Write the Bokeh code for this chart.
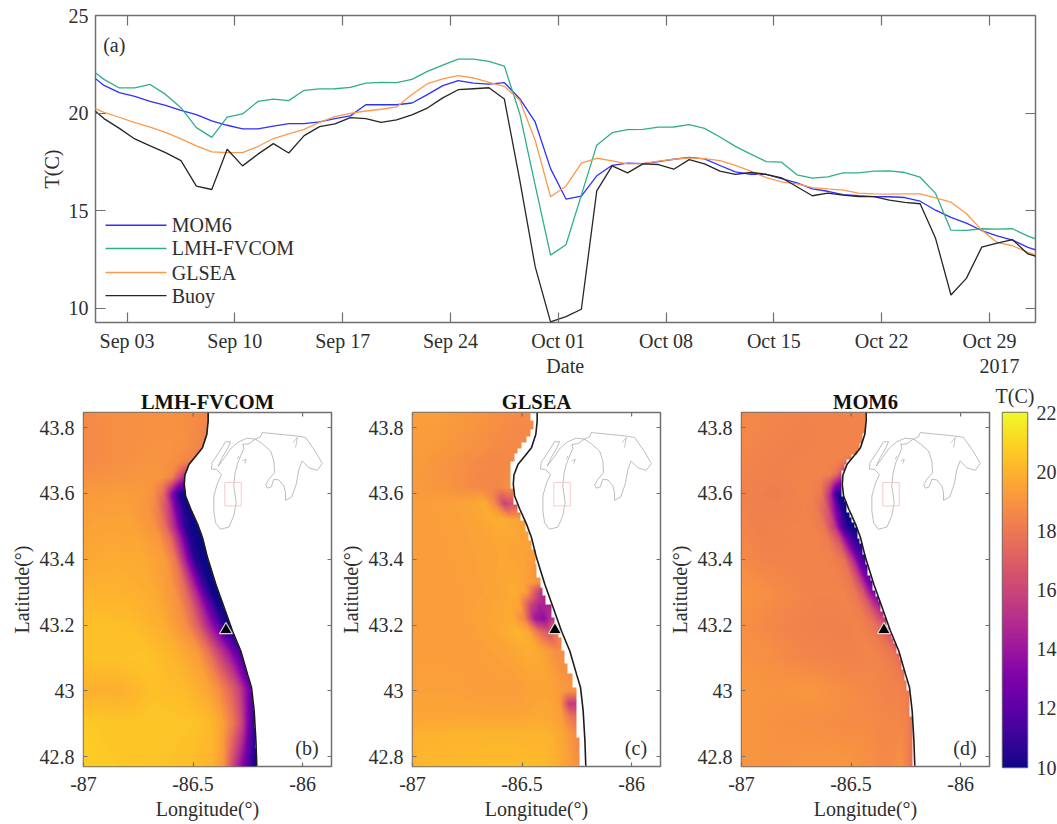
import numpy as np
from bokeh.embed import file_html
from bokeh.layouts import column, row
from bokeh.models import FixedTicker, Label, LinearAxis, LinearColorMapper, Range1d
from bokeh.palettes import Plasma256
from bokeh.plotting import figure
from bokeh.resources import INLINE

# ---------- panel (a): daily means, noon of each day; day 0 = Sep 1 ----------
days = [d - 0.5 for d in range(63)]
mom6 = [22.05, 21.42, 21.05, 20.86, 20.60, 20.40, 20.14, 19.92, 19.60, 19.38, 19.19, 19.19, 19.33, 19.46, 19.46, 19.55,
        19.72, 19.86, 20.43, 20.43, 20.43, 20.52, 20.95, 21.41, 21.66, 21.54, 21.49, 21.56, 20.74, 19.55, 17.16, 15.60,
        15.75, 16.79, 17.33, 17.44, 17.42, 17.52, 17.64, 17.74, 17.66, 17.32, 16.99, 16.87, 16.87, 16.65, 16.43, 16.12,
        16.00, 15.83, 15.77, 15.73, 15.72, 15.68, 15.49, 15.03, 14.66, 14.37, 13.99, 13.72, 13.50, 13.13, 12.87]
fvcom = [22.33, 21.73, 21.29, 21.29, 21.47, 20.96, 20.28, 19.26, 18.76, 19.80, 19.96, 20.60, 20.72, 20.64, 21.17, 21.24,
         21.25, 21.32, 21.54, 21.58, 21.56, 21.73, 22.14, 22.46, 22.77, 22.77, 22.65, 22.41, 19.97, 16.31, 12.73, 13.26,
         15.80, 18.36, 19.00, 19.16, 19.17, 19.28, 19.29, 19.41, 19.22, 18.78, 18.30, 17.90, 17.52, 17.49, 16.84, 16.67,
         16.74, 16.94, 16.94, 17.03, 17.04, 16.96, 16.72, 15.89, 14.01, 14.00, 14.08, 14.06, 14.08, 13.70, 13.42]
glsea = [20.38, 20.04, 19.79, 19.51, 19.29, 19.02, 18.68, 18.32, 18.02, 17.98, 17.98, 18.29, 18.70, 18.94, 19.17, 19.53,
         19.82, 19.99, 20.11, 20.20, 20.32, 20.95, 21.51, 21.75, 21.92, 21.80, 21.58, 21.37, 20.66, 18.61, 15.72, 16.26,
         17.44, 17.69, 17.56, 17.40, 17.42, 17.54, 17.64, 17.71, 17.67, 17.57, 17.33, 17.03, 16.70, 16.48, 16.38, 16.19,
         16.12, 16.06, 15.90, 15.87, 15.85, 15.87, 15.87, 15.66, 15.44, 14.86, 14.01, 13.38, 13.21, 12.87, 12.63]
buoy = [20.40, 19.72, 19.22, 18.68, 18.32, 17.98, 17.57, 16.26, 16.09, 18.15, 17.30, 17.90, 18.44, 17.96, 18.85, 19.31,
        19.45, 19.77, 19.72, 19.53, 19.65, 19.91, 20.26, 20.78, 21.20, 21.25, 21.30, 20.72, 16.57, 12.14, 9.31, 9.58,
        9.96, 16.02, 17.30, 16.94, 17.40, 17.37, 17.13, 17.62, 17.40, 17.03, 16.86, 16.96, 16.87, 16.69, 16.23, 15.77,
        15.90, 15.80, 15.73, 15.73, 15.55, 15.43, 15.36, 13.59, 10.69, 11.54, 13.14, 13.35, 13.52, 12.79, 12.56]
date_ticks = [2, 9, 16, 23, 30, 37, 44, 51, 58]
date_labels = ["Sep 03", "Sep 10", "Sep 17", "Sep 24", "Oct 01", "Oct 08", "Oct 15", "Oct 22", "Oct 29"]
second_row = {30.45: "Date", 58.65: "2017"}
temp_ticks = [10, 15, 20, 25]
legend_names = ["MOM6", "LMH-FVCOM", "GLSEA", "Buoy"]
legend_colors = ["#2f2fff", "#2fae8a", "#fb9a4e", "#262626"]
legend_y = [14.26, 13.07, 11.84, 10.66]

# ---------- map panels ----------
coast_lon = [-86.431, -86.431, -86.437, -86.457, -86.487, -86.518, -86.537, -86.540, -86.534, -86.510, -86.479,
             -86.457, -86.434, -86.396, -86.358, -86.320, -86.282, -86.251, -86.233, -86.221, -86.213, -86.209]
coast_lat = [43.846, 43.820, 43.780, 43.739, 43.714, 43.689, 43.656, 43.628, 43.592, 43.552, 43.506,
             43.466, 43.405, 43.324, 43.253, 43.182, 43.121, 43.050, 43.010, 42.939, 42.848, 42.772]
buoy_lon, buoy_lat = -86.35, 43.185

michigan_lon = [-86.375, -86.397, -86.405, -86.405, -86.390, -86.370, -86.394, -86.416, -86.413, -86.382, -86.352,
                -86.329, -86.340, -86.367, -86.385, -86.367, -86.324, -86.291, -86.253, -86.215, -86.245, -86.273,
                -86.268, -86.283, -86.298, -86.309, -86.314, -86.303, -86.314, -86.336, -86.375]
michigan_lat = [43.491, 43.511, 43.547, 43.592, 43.628, 43.658, 43.673, 43.674, 43.694, 43.724, 43.757,
                43.757, 43.739, 43.709, 43.683, 43.699, 43.739, 43.757, 43.768, 43.765, 43.751, 43.749,
                43.737, 43.714, 43.689, 43.658, 43.623, 43.572, 43.532, 43.498, 43.491]
huron_lon = [-86.215, -86.184, -86.146, -86.131, -86.128, -86.154, -86.168, -86.161, -86.143, -86.131, -86.108, -86.085,
             -86.078, -86.078, -86.050, -86.029, -86.017, -86.002, -85.971, -85.933, -85.910, -85.941, -85.986, -86.032,
             -86.078, -86.184, -86.192, -86.215]
huron_lat = [43.765, 43.751, 43.729, 43.699, 43.663, 43.643, 43.626, 43.616, 43.620, 43.643, 43.641, 43.623,
             43.602, 43.579, 43.589, 43.628, 43.673, 43.699, 43.678, 43.670, 43.691, 43.727, 43.770, 43.775,
             43.778, 43.785, 43.772, 43.765]
island_lon = [[-86.273, -86.257, -86.263], [-86.032, -86.024, -86.044], [-86.298, -86.291]]
island_lat = [[43.699, 43.704, 43.691], [43.739, 43.770, 43.754], [43.704, 43.714]]
box_lon = [-86.355, -86.280, -86.280, -86.355, -86.355]
box_lat = [43.633, 43.633, 43.562, 43.562, 43.633]

# temperature by latitude (rows) and distance west of the shore in degrees (columns)
shore_dist = [0, 0.03, 0.06, 0.1, 0.15, 0.2, 0.3, 0.45, 0.6, 0.8]
fvcom_lat = [43.85, 43.7, 43.65, 43.6, 43.5, 43.4, 43.3, 43.2, 43.1, 43.0, 42.9, 42.77]
fvcom_map = [[18.5, 18.6, 18.7, 18.8, 18.9, 18.9, 18.9, 18.8, 18.6, 18.6],
             [18.3, 18.5, 18.7, 18.9, 19.0, 19.0, 18.9, 18.7, 18.6, 18.6],
             [14.5, 16.5, 18.5, 19.0, 19.1, 19.1, 19.0, 18.9, 18.7, 18.6],
             [10.0, 10.5, 13.5, 17.5, 19.0, 19.2, 19.3, 19.2, 19.0, 18.7],
             [10.0, 10.0, 10.5, 14.0, 17.5, 19.0, 19.5, 19.5, 19.3, 19.2],
             [10.0, 10.0, 10.5, 14.0, 18.0, 19.3, 19.7, 19.8, 19.6, 19.5],
             [10.0, 10.0, 11.5, 14.5, 17.5, 19.0, 19.8, 20.0, 20.0, 19.9],
             [10.0, 10.5, 12.5, 14.5, 17.0, 18.7, 19.8, 20.3, 20.4, 20.4],
             [11.5, 13.0, 14.5, 16.0, 18.0, 19.3, 20.0, 20.5, 20.4, 20.4],
             [12.0, 14.0, 16.0, 17.5, 18.8, 19.6, 20.2, 20.4, 19.9, 19.9],
             [10.5, 13.0, 16.0, 18.0, 19.5, 20.2, 20.5, 20.6, 20.5, 20.7],
             [10.0, 11.0, 13.0, 15.5, 19.0, 20.0, 20.3, 20.5, 20.6, 20.8]]
glsea_lat = [43.85, 43.7, 43.62, 43.57, 43.52, 43.42, 43.33, 43.30, 43.26, 43.22, 43.18, 43.12, 43.0, 42.96, 42.92,
             42.87, 42.77]
glsea_map = [[18.7, 18.7, 18.7, 18.7, 18.8, 18.9, 19.1, 19.3, 19.3, 19.3],
             [18.6, 18.6, 18.6, 18.6, 18.6, 18.7, 18.9, 19.2, 19.3, 19.3],
             [19.0, 18.8, 18.6, 18.5, 18.6, 18.7, 19.0, 19.2, 19.3, 19.3],
             [16.5, 16.5, 15.8, 18.5, 19.8, 19.6, 19.4, 19.3, 19.3, 19.3],
             [19.4, 19.5, 19.7, 19.8, 19.8, 19.6, 19.4, 19.3, 19.3, 19.3],
             [19.4, 19.4, 19.5, 19.5, 19.6, 19.5, 19.4, 19.3, 19.3, 19.3],
             [19.0, 19.0, 19.3, 19.6, 19.7, 19.6, 19.4, 19.3, 19.3, 19.3],
             [15.0, 15.0, 17.0, 19.5, 19.8, 19.6, 19.4, 19.3, 19.3, 19.3],
             [14.5, 14.5, 14.5, 16.0, 19.6, 19.7, 19.5, 19.3, 19.3, 19.3],
             [15.0, 15.0, 13.5, 14.0, 18.5, 19.7, 19.6, 19.3, 19.3, 19.3],
             [18.0, 18.0, 16.5, 17.5, 19.6, 20.0, 19.6, 19.3, 19.3, 19.3],
             [18.8, 18.8, 18.8, 19.3, 19.7, 19.8, 19.5, 19.3, 19.3, 19.3],
             [19.0, 19.0, 19.1, 19.3, 19.5, 19.5, 19.3, 19.3, 19.4, 19.4],
             [15.5, 15.5, 15.5, 19.2, 19.6, 19.6, 19.4, 19.4, 19.5, 19.5],
             [17.5, 17.5, 18.0, 19.3, 19.6, 19.7, 19.6, 19.6, 19.6, 19.6],
             [18.5, 18.5, 19.0, 19.6, 19.9, 20.0, 20.0, 20.0, 20.0, 19.9],
             [18.5, 18.8, 19.2, 19.6, 20.0, 20.2, 20.3, 20.3, 20.2, 20.1]]
mom6_lat = [43.85, 43.72, 43.66, 43.6, 43.5, 43.4, 43.3, 43.2, 43.1, 43.0, 42.9, 42.77]
mom6_map = [[18.4, 18.4, 18.4, 18.4, 18.4, 18.4, 18.4, 18.5, 18.6, 18.7],
            [18.4, 18.4, 18.4, 18.4, 18.4, 18.4, 18.3, 18.4, 18.6, 18.7],
            [15.0, 17.5, 18.3, 18.4, 18.4, 18.4, 18.3, 18.4, 18.7, 18.8],
            [10.0, 10.5, 15.0, 18.0, 18.4, 18.4, 18.2, 18.3, 18.8, 18.8],
            [10.0, 10.0, 11.0, 15.5, 18.0, 18.4, 18.4, 18.3, 18.6, 18.8],
            [11.0, 12.0, 15.0, 17.8, 18.3, 18.4, 18.4, 18.4, 18.7, 18.9],
            [12.5, 14.0, 16.5, 18.0, 18.4, 18.4, 18.4, 18.7, 19.0, 19.1],
            [16.0, 17.0, 17.7, 18.2, 18.4, 18.3, 18.3, 18.4, 18.7, 19.0],
            [17.3, 18.0, 18.2, 18.4, 18.5, 18.4, 18.4, 18.5, 18.8, 19.0],
            [18.0, 18.3, 18.4, 18.4, 18.5, 18.6, 18.8, 19.1, 19.0, 19.1],
            [17.8, 18.4, 18.5, 18.5, 18.6, 18.7, 18.7, 18.8, 18.9, 19.1],
            [17.2, 18.3, 18.9, 18.7, 18.6, 18.8, 19.1, 19.1, 19.0, 19.0]]
# eastern limit of the coarse GLSEA cells, south limit of each band and its longitude
glsea_band_lat = [43.822, 43.795, 43.775, 43.755, 43.739, 43.724, 43.697, 43.616, 43.567, 43.542, 43.517, 43.486,
                  43.456, 43.430, 43.385, 43.344, 43.314, 43.289, 43.261, 43.223, 43.187, 43.162, 43.121, 43.081,
                  43.051, 43.010, 42.858, 42.700]
glsea_band_lon = [-86.462, -86.450, -86.462, -86.481, -86.505, -86.523, -86.535, -86.551, -86.541, -86.523, -86.508,
                  -86.485, -86.470, -86.459, -86.440, -86.432, -86.417, -86.406, -86.394, -86.363, -86.353, -86.333,
                  -86.318, -86.307, -86.292, -86.268, -86.252, -86.237]
lon_ticks = [-87, -86.5, -86]
lat_ticks = [42.8, 43, 43.2, 43.4, 43.6, 43.8]
cbar_ticks = [10, 12, 14, 16, 18, 20, 22]

LON0, LON1, LAT0, LAT1 = -87.0, -85.868, 42.77, 43.846
SERIF = "Liberation Serif"
INK = "#2e2e2e"
FRAME = "#707070"
mapper = LinearColorMapper(palette=Plasma256, low=10, high=22, nan_color="rgba(0,0,0,0)")


def style_axis(ax, size="20px"):
    ax.major_label_text_font = SERIF
    ax.major_label_text_font_size = size
    ax.major_label_text_color = INK
    ax.axis_label_text_font = SERIF
    ax.axis_label_text_font_size = "20px"
    ax.axis_label_text_font_style = "normal"
    ax.axis_label_text_color = INK
    ax.axis_line_color = None
    ax.major_tick_line_color = FRAME
    ax.major_tick_line_width = 1.2
    ax.minor_tick_line_color = None


def header(p, x, text, bold, stand):
    """A text above the frame, carried by an axis of its own."""
    ax = LinearAxis(ticker=FixedTicker(ticks=[x]))
    style_axis(ax)
    ax.major_label_overrides = {x: text}
    ax.major_tick_line_color = None
    ax.major_tick_in = 0
    ax.major_tick_out = 0
    ax.major_label_standoff = stand
    if bold:
        ax.major_label_text_font_style = "bold"
        ax.major_label_text_font_size = "20.5px"
        ax.major_label_text_color = "#111111"
    p.add_layout(ax, "above")


def boxed(p, xt, yt, xover, yover, tick, xstand, ystand, top_axis=True):
    p.outline_line_color = FRAME
    p.outline_line_width = 1.5
    p.grid.visible = False
    xax, yax = p.below[0], p.left[0]
    for ax, ticks, over, stand in ((xax, xt, xover, xstand), (yax, yt, yover, ystand)):
        style_axis(ax)
        ax.ticker = FixedTicker(ticks=ticks)
        ax.major_label_overrides = over
        ax.major_tick_in = tick
        ax.major_tick_out = 0
        ax.major_label_standoff = stand
    sides = [(yt, "right")] + ([(xt, "above")] if top_axis else [])
    for ticks, side in sides:
        ax = LinearAxis(ticker=FixedTicker(ticks=ticks))
        style_axis(ax, "1px")
        ax.major_label_overrides = {t: "" for t in ticks}
        ax.major_tick_in = tick
        ax.major_tick_out = 0
        ax.major_label_standoff = 0
        p.add_layout(ax, side)
    return xax, yax


def rendered_field(rows, table, edge):
    nx, ny = 248, 354
    lons = np.linspace(LON0, LON1, nx)
    lats = np.linspace(LAT0, LAT1, ny)
    shore = np.interp(lats, coast_lat[::-1], coast_lon[::-1])
    tab = np.array(table)[::-1]
    rows_up = np.array(rows)[::-1]
    out = np.full((ny, nx), np.nan)
    for i, lat in enumerate(lats):
        prof = [np.interp(lat, rows_up, tab[:, j]) for j in range(tab.shape[1])]
        vals = np.interp(shore[i] - lons, shore_dist, prof)
        vals[lons > edge(lat)] = np.nan
        out[i] = vals
    return out


def fvcom_edge(lat):
    return np.interp(lat, coast_lat[::-1], coast_lon[::-1])


def glsea_edge(lat):
    for south, lon in zip(glsea_band_lat, glsea_band_lon):
        if lat >= south:
            return lon
    return glsea_band_lon[-1]


def mom6_edge(lat):
    snapped = round(lat / 0.016) * 0.016
    return np.floor(np.interp(snapped, coast_lat[::-1], coast_lon[::-1]) / 0.012) * 0.012


def map_panel(title, tag, rows, table, edge, left, right, xover, yover):
    p = figure(frame_width=248, frame_height=354, x_range=Range1d(LON0, LON1), y_range=Range1d(LAT0, LAT1),
               toolbar_location=None, tools="", output_backend="svg", min_border_left=left, min_border_right=right,
               min_border_top=29, min_border_bottom=60)
    p.image(image=[rendered_field(rows, table, edge)], x=LON0, y=LAT0, dw=LON1 - LON0, dh=LAT1 - LAT0,
            color_mapper=mapper)
    p.line(coast_lon, coast_lat, line_color="#1c1c1c", line_width=1.6)
    p.line(michigan_lon, michigan_lat, line_color="#a0a0a0", line_width=0.7)
    p.line(huron_lon, huron_lat, line_color="#a0a0a0", line_width=0.7)
    p.multi_line(island_lon, island_lat, line_color="#a0a0a0", line_width=0.6)
    p.line(box_lon, box_lat, line_color="#f7c9cb", line_width=1.0)
    p.scatter([buoy_lon], [buoy_lat], marker="triangle", size=13, fill_color="black", line_color="#d8d8d8",
              line_width=1.2)
    p.segment(x0=lon_ticks, x1=lon_ticks, y0=[LAT1] * 3, y1=[LAT1 - 0.012] * 3, line_color=FRAME, line_width=1.2)
    xax, yax = boxed(p, lon_ticks, lat_ticks, xover, yover, 4, 10, 9, top_axis=False)
    xax.axis_label = "Longitude(\u00b0)"
    yax.axis_label = "Latitude(\u00b0)"
    xax.axis_label_standoff = 4
    yax.axis_label_standoff = 4
    header(p, (LON0 + LON1) / 2, title, True, 0)
    p.add_layout(Label(x=-85.98, y=42.827, text=tag, text_font=SERIF, text_font_size="20px", text_color=INK,
                       text_align="center", text_baseline="middle"))
    return p


# ---------- panel (a) ----------
top = figure(frame_width=940, frame_height=307, x_range=Range1d(-0.05, 60.99), y_range=Range1d(9.28, 25),
             toolbar_location=None, tools="", output_backend="svg", min_border_left=95, min_border_right=22,
             min_border_top=15, min_border_bottom=59)
for series, color in zip((mom6, fvcom, glsea, buoy), legend_colors):
    top.line(days, series, line_color=color, line_width=1.3)
xax, yax = boxed(top, date_ticks, temp_ticks, dict(zip(date_ticks, date_labels)), {}, 10, 7, 7)
yax.axis_label = "T(C)"
yax.axis_label_standoff = 3
# second row under the dates: the axis name and the year
ax2 = LinearAxis(ticker=FixedTicker(ticks=list(second_row)))
style_axis(ax2)
ax2.major_label_overrides = second_row
ax2.major_tick_line_color = None
ax2.major_tick_in = 0
ax2.major_tick_out = 0
ax2.major_label_standoff = 0
top.add_layout(ax2, "below")
# key of panel (a), drawn by hand
top.segment(x0=[0.6] * 4, x1=[4.56] * 4, y0=legend_y, y1=legend_y, line_color=legend_colors, line_width=1.3)
for name, y in zip(legend_names, legend_y):
    top.add_layout(Label(x=4.9, y=y, text=name, text_font=SERIF, text_font_size="20px", text_color=INK,
                         text_baseline="middle"))
top.add_layout(Label(x=0.45, y=23.47, text="(a)", text_font=SERIF, text_font_size="20px", text_color=INK,
                     text_baseline="middle"))

lon_over = {-87: "-87", -86.5: "-86.5", -86: "-86"}
lat_over = {42.8: "42.8", 43: "43", 43.2: "43.2", 43.4: "43.4", 43.6: "43.6", 43.8: "43.8"}
pb = map_panel("LMH-FVCOM", "(b)", fvcom_lat, fvcom_map, fvcom_edge, 83, 4, lon_over, lat_over)
pc = map_panel("GLSEA", "(c)", glsea_lat, glsea_map, glsea_edge, 77, 4, lon_over, lat_over)
pd_ = map_panel("MOM6", "(d)", mom6_lat, mom6_map, mom6_edge, 77, 4, lon_over, lat_over)

# ---------- colour bar ----------
cb = figure(frame_width=25, frame_height=355, x_range=Range1d(0, 1), y_range=Range1d(10, 22),
            toolbar_location=None, tools="", output_backend="svg", min_border_left=9, min_border_right=30,
            min_border_top=29, min_border_bottom=50, y_axis_location="right")
cb.image(image=[np.linspace(10, 22, 256).reshape(-1, 1)], x=0, y=10, dw=1, dh=12, color_mapper=mapper)
cb.outline_line_color = FRAME
cb.outline_line_width = 1.5
cb.grid.visible = False
cb.xaxis.visible = False
style_axis(cb.right[0])
cb.right[0].ticker = FixedTicker(ticks=cbar_ticks)
cb.right[0].major_tick_in = 0
cb.right[0].major_tick_out = 0
cb.right[0].major_label_standoff = 9
header(cb, 0.5, "T(C)", False, 6)

page = column(top, row(pb, pc, pd_, cb))
open("out.html", "w").write(file_html(page, INLINE))
